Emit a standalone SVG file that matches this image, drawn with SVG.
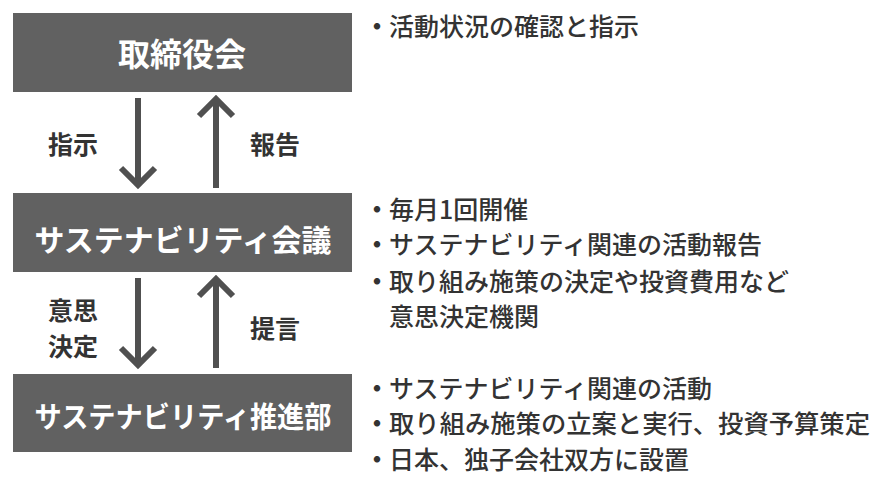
<svg xmlns="http://www.w3.org/2000/svg" width="890" height="490" viewBox="0 0 890 490">
<defs>
<style>
.box{fill:#616161;}
.title{font-family:"Noto Sans CJK JP","Noto Sans",sans-serif;font-weight:bold;fill:#ffffff;text-anchor:middle;dominant-baseline:central;}
.lbl{font-family:"Noto Sans CJK JP","Noto Sans",sans-serif;font-weight:bold;font-size:25px;fill:#333333;dominant-baseline:central;}
.txt{font-family:"Noto Sans CJK JP","Noto Sans",sans-serif;font-weight:500;font-size:25px;fill:#333333;dominant-baseline:central;}
.bul{font-family:"Noto Sans CJK JP","Noto Sans",sans-serif;font-weight:bold;font-size:25px;fill:#333333;dominant-baseline:central;text-anchor:middle;}
.ar{stroke:#505050;stroke-width:6;fill:none;}
</style>
</defs>
<rect width="890" height="490" fill="#ffffff"/>
<g id="node-board">
<rect class="box" x="13" y="13" width="339" height="79"/>
<text class="title" x="182" y="52" font-size="32">取締役会</text>
</g>
<g id="node-council">
<rect class="box" x="13" y="193" width="339" height="79"/>
<text class="title" x="183" y="238" font-size="30" textLength="297" lengthAdjust="spacingAndGlyphs">サステナビリティ会議</text>
</g>
<g id="node-dept">
<rect class="box" x="13" y="374" width="339" height="78"/>
<text class="title" x="183" y="415" font-size="29" textLength="297" lengthAdjust="spacingAndGlyphs">サステナビリティ推進部</text>
</g>
<g id="connectors">
<line class="ar" x1="138" y1="98" x2="138" y2="186"/>
<polyline class="ar" points="121,168 138,185 155,168"/>
<line class="ar" x1="216" y1="100" x2="216" y2="188"/>
<polyline class="ar" points="199,116 216,99 233,116"/>
<line class="ar" x1="138" y1="278" x2="138" y2="366"/>
<polyline class="ar" points="121,348 138,365 155,348"/>
<line class="ar" x1="216" y1="280" x2="216" y2="368"/>
<polyline class="ar" points="199,296 216,279 233,296"/>
<text class="lbl" x="48" y="143">指示</text>
<text class="lbl" x="250" y="143">報告</text>
<text class="lbl" x="48" y="309" font-size="24">意思</text>
<text class="lbl" x="48" y="345" font-size="24">決定</text>
<text class="lbl" x="250" y="327">提言</text>
</g>
<g id="notes">
<text class="bul" x="377" y="25">・</text>
<text class="txt" x="389" y="25">活動状況の確認と指示</text>
<text class="bul" x="377" y="208">・</text>
<text class="txt" x="389" y="208">毎月1回開催</text>
<text class="bul" x="377" y="243">・</text>
<text class="txt" x="389" y="243">サステナビリティ関連の活動報告</text>
<text class="bul" x="377" y="280">・</text>
<text class="txt" x="389" y="280">取り組み施策の決定や投資費用など</text>
<text class="txt" x="389" y="315">意思決定機関</text>
<text class="bul" x="377" y="387">・</text>
<text class="txt" x="389" y="387">サステナビリティ関連の活動</text>
<text class="bul" x="377" y="422">・</text>
<text class="txt" x="389" y="422" textLength="481" lengthAdjust="spacingAndGlyphs">取り組み施策の立案と実行、投資予算策定</text>
<text class="bul" x="377" y="458">・</text>
<text class="txt" x="389" y="458">日本、独子会社双方に設置</text>
</g>
</svg>
